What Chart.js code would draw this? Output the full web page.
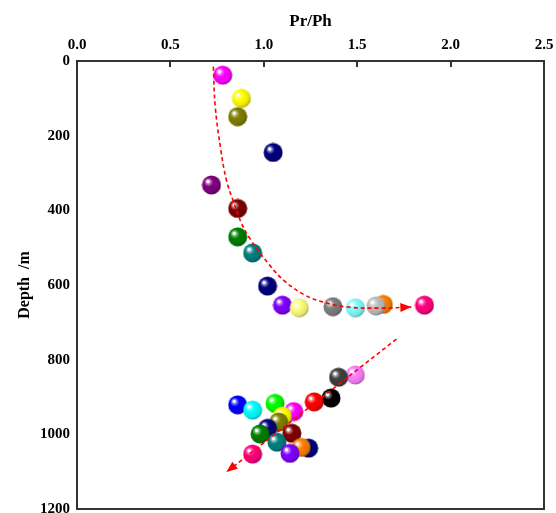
<!DOCTYPE html>
<html lang="en">
<head>
  <meta charset="UTF-8" />
  <title>Pr/Ph vs Depth</title>
  <script src="https://cdn.jsdelivr.net/npm/chart.js"></script>
  <style>
    html, body { margin: 0; padding: 0; background: #fff; }
    #wrap { width: 556px; height: 513px; }
  </style>
</head>
<body>
  <div id="wrap">
    <canvas id="prphChart" width="556" height="513"></canvas>
  </div>

  <script>
    // axis ticks
    const ratioTicks = [0, 0.5, 1.0, 1.5, 2.0, 2.5];
    const depthTicks = [0, 200, 400, 600, 800, 1000, 1200];

    // upper samples (0 - 700 m)
    const upperRatio = [0.78, 0.88, 0.86, 1.05, 0.72, 0.86, 0.86, 0.94, 1.02, 1.10, 1.19, 1.37, 1.49, 1.64, 1.60, 1.86];
    const upperDepth = [38, 100, 149, 245, 332, 395, 471, 514, 603, 654, 661, 658, 661, 652, 656, 654];
    const upperColor = ['#ff00ff', '#ffff00', '#808000', '#000080', '#800080', '#800000', '#008000', '#008080',
                        '#000080', '#8000ff', '#ffff80', '#808080', '#80ffff', '#ff8000', '#c0c0c0', '#ff0080'];

    // lower samples (800 - 1100 m)
    const lowerRatio = [1.49, 1.40, 1.36, 1.27, 0.86, 0.94, 1.06, 1.16, 1.10, 1.08, 1.02, 1.15, 0.98, 1.07, 1.24, 1.20, 1.14, 0.94];
    const lowerDepth = [841, 847, 903, 913, 921, 935, 917, 939, 951, 967, 984, 997, 999, 1021, 1037, 1035, 1051, 1053];
    const lowerColor = ['#ff80ff', '#404040', '#000000', '#ff0000', '#0000ff', '#00ffff', '#00ff00', '#ff00ff', '#ffff00',
                        '#808000', '#000080', '#800000', '#008000', '#008080', '#000080', '#ff8000', '#8000ff', '#ff0080'];

    // trend arrows
    const trendUpperRatio = [0.73, 0.74, 0.77, 0.80, 0.84, 0.88, 0.93, 1.03, 1.11, 1.22, 1.32, 1.45, 1.62, 1.79];
    const trendUpperDepth = [15, 122, 238, 319, 380, 434, 479, 546, 589, 627, 646, 659, 662, 659];
    const trendLowerRatio = [1.71, 0.80];
    const trendLowerDepth = [745, 1101];

    const FONT = "'Liberation Serif', 'Times New Roman', serif";

    // little shaded ball used as point marker
    function hexRgb(h) {
      const n = parseInt(h.slice(1), 16);
      return [(n >> 16) & 255, (n >> 8) & 255, n & 255];
    }
    function mix(h, t, k) {
      const a = hexRgb(h);
      const c = a.map(v => Math.round(v + (t - v) * k));
      return `rgb(${c[0]},${c[1]},${c[2]})`;
    }
    function makeBall(color) {
      const r = 9.5;
      const c = document.createElement('canvas');
      c.width = c.height = 20;
      const g = c.getContext('2d');
      const cx = 10, cy = 10;
      const grad = g.createRadialGradient(cx - 3.8, cy - 3.8, 0, cx - 1.5, cy - 1.5, r * 1.15);
      grad.addColorStop(0, '#ffffff');
      grad.addColorStop(0.1, '#ffffff');
      grad.addColorStop(0.2, mix(color, 255, 0.5));
      grad.addColorStop(0.42, color);
      grad.addColorStop(0.85, mix(color, 0, 0.1));
      grad.addColorStop(1, mix(color, 0, 0.3));
      g.fillStyle = grad;
      g.beginPath();
      g.arc(cx, cy, r, 0, Math.PI * 2);
      g.fill();
      return c;
    }

    const toXY = (xs, ys) => xs.map((v, i) => ({ x: v, y: ys[i] }));

    // frame, inner ticks on top axis, arrowheads at the end of trend lines
    const framePlugin = {
      id: 'frame',
      afterDatasetsDraw(chart) {
        const ctx = chart.ctx;
        const meta0 = chart.getDatasetMeta(0), meta1 = chart.getDatasetMeta(1);
        ctx.save();
        ctx.fillStyle = '#ff0000';
        [meta0, meta1].forEach(m => {
          const pts = m.data;
          const a = pts[pts.length - 2], b = pts[pts.length - 1];
          const ang = Math.atan2(b.y - a.y, b.x - a.x);
          ctx.save();
          ctx.translate(b.x, b.y);
          ctx.rotate(ang);
          ctx.beginPath();
          ctx.moveTo(0, 0);
          ctx.lineTo(-11, -4.5);
          ctx.lineTo(-11, 4.5);
          ctx.closePath();
          ctx.fill();
          ctx.restore();
        });
        ctx.restore();
      },
      afterDraw(chart) {
        const { ctx, chartArea: ca, scales } = chart;
        ctx.save();
        ctx.strokeStyle = '#333333';
        ctx.lineWidth = 2;
        ctx.strokeRect(ca.left, ca.top, ca.right - ca.left, ca.bottom - ca.top);
        ratioTicks.forEach(t => {
          const px = Math.round(scales.x.getPixelForValue(t));
          ctx.beginPath();
          ctx.moveTo(px, ca.top);
          ctx.lineTo(px, ca.top + 6);
          ctx.stroke();
        });
        ctx.restore();
      }
    };

    new Chart(document.getElementById('prphChart'), {
      type: 'scatter',
      data: {
        datasets: [
          {
            data: toXY(trendUpperRatio, trendUpperDepth),
            showLine: true,
            tension: 0.4,
            borderColor: '#ff0000',
            borderWidth: 1.6,
            borderDash: [4, 3],
            pointRadius: 0
          },
          {
            data: toXY(trendLowerRatio, trendLowerDepth),
            showLine: true,
            borderColor: '#ff0000',
            borderWidth: 1.6,
            borderDash: [4, 3],
            pointRadius: 0
          },
          {
            data: toXY(upperRatio, upperDepth),
            pointStyle: upperColor.map(makeBall),
            pointRadius: 9.5
          },
          {
            data: toXY(lowerRatio, lowerDepth),
            pointStyle: lowerColor.map(makeBall),
            pointRadius: 9.5
          }
        ]
      },
      options: {
        responsive: false,
        animation: false,
        layout: { autoPadding: false, padding: { left: 0, top: 0, right: 12, bottom: 4 } },
        plugins: {
          legend: { display: false },
          tooltip: { enabled: false }
        },
        scales: {
          x: {
            type: 'linear',
            position: 'top',
            min: 0,
            max: 2.5,
            afterBuildTicks: s => { s.ticks = ratioTicks.map(v => ({ value: v })); },
            afterFit: s => { s.height = 61; s.paddingLeft = 0; s.paddingRight = 0; },
            grid: { display: false, drawTicks: false, tickLength: 0 },
            border: { display: false },
            ticks: {
              padding: 7,
              color: '#000',
              font: { family: FONT, size: 15, weight: 'bold' },
              callback: v => Number(v).toFixed(1)
            },
            title: {
              display: true,
              text: 'Pr/Ph',
              color: '#000',
              font: { family: FONT, size: 17, weight: 'bold' },
              padding: { top: 11, bottom: 0 }
            }
          },
          y: {
            type: 'linear',
            reverse: true,
            min: 0,
            max: 1200,
            afterBuildTicks: s => { s.ticks = depthTicks.map(v => ({ value: v })); },
            afterFit: s => { s.width = 77; s.paddingTop = 0; s.paddingBottom = 0; },
            grid: { display: false, drawTicks: false, tickLength: 0 },
            border: { display: false },
            ticks: {
              padding: 7,
              color: '#000',
              font: { family: FONT, size: 15, weight: 'bold' },
              callback: v => String(v)
            },
            title: {
              display: true,
              text: 'Depth  /m',
              color: '#000',
              font: { family: FONT, size: 16, weight: 'bold' },
              padding: { top: 15, bottom: 0 }
            }
          }
        }
      },
      plugins: [framePlugin]
    });
  </script>
</body>
</html>
